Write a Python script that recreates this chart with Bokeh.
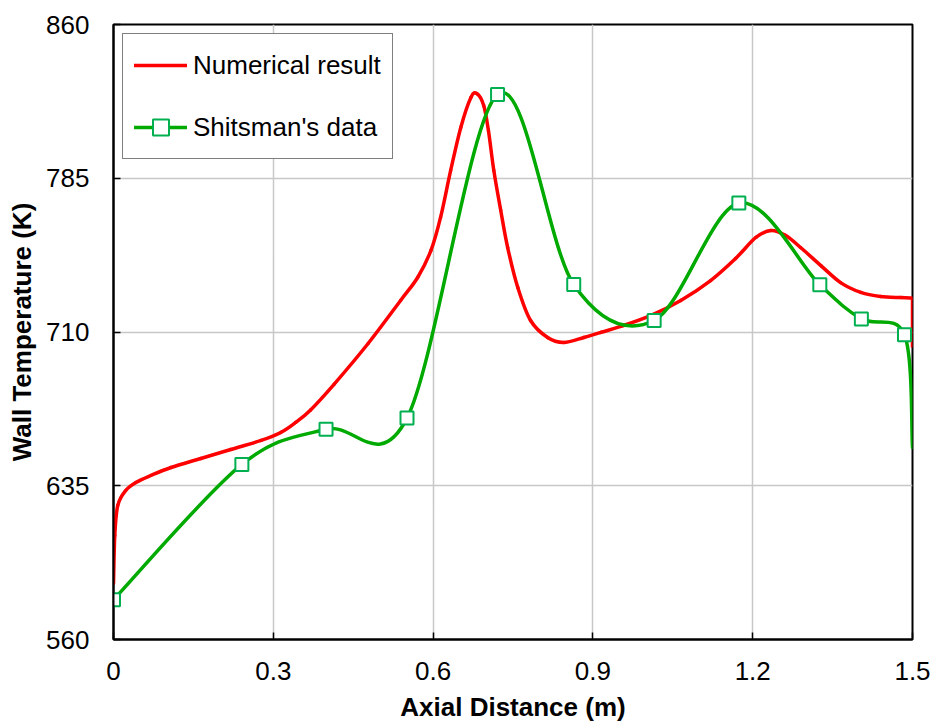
import numpy as np
from bokeh.plotting import figure
from bokeh.models import FixedTicker, Legend, LegendItem, Range1d
from bokeh.embed import file_html
from bokeh.resources import INLINE

# ---- data ----
# Numerical result (red curve)
num_x = [0.000, 0.0024, 0.008, 0.023, 0.042, 0.070, 0.108, 0.164, 0.220, 0.277,
         0.314, 0.342, 0.370, 0.414, 0.478, 0.539, 0.571, 0.596, 0.614, 0.633,
         0.652, 0.671, 0.682, 0.695, 0.704, 0.714, 0.727, 0.740, 0.759, 0.783,
         0.815, 0.845, 0.883, 0.915, 0.952, 1.008, 1.065, 1.121, 1.168, 1.206,
         1.234, 1.262, 1.290, 1.328, 1.365, 1.403, 1.440, 1.478, 1.500, 1.500]
num_T = [587.3, 610.7, 625.4, 632.7, 636.6, 640.0, 643.9, 648.3, 652.7, 657.1,
         661.0, 665.9, 672.0, 684.5, 704.4, 725.4, 736.6, 749.8, 765.9, 788.8,
         809.8, 824.4, 826.3, 820.5, 808.0, 788.8, 769.3, 751.2, 731.7, 715.6,
         707.3, 704.9, 707.3, 709.8, 712.7, 718.0, 725.4, 735.1, 745.9, 756.1,
         759.5, 757.1, 751.2, 742.4, 734.1, 729.3, 727.3, 726.8, 726.6, 702.4]

# Shitsman's data (green, markers)
exp_x = [0.000, 0.241, 0.399, 0.551, 0.721, 0.864, 1.015, 1.174, 1.326, 1.404, 1.485]
exp_T = [579.4, 645.4, 662.6, 668.0, 825.9, 733.2, 715.6, 772.9, 733.0, 716.4, 708.6]
# end point of the green line (no marker)
exp_end_x = [1.500]
exp_end_T = [653.7]

x_ticks = [0, 0.3, 0.6, 0.9, 1.2, 1.5]
x_tick_labels = ["0", "0.3", "0.6", "0.9", "1.2", "1.5"]
y_ticks = [560, 635, 710, 785, 860]


def smooth_segments(xs, ys):
    """Catmull-Rom style cubic Bezier segments through the given points."""
    P = np.column_stack([xs, ys]).astype(float)
    n = len(P)
    Pm = np.vstack([P[0], P, P[-1]])
    i = np.arange(n - 1)
    c0 = Pm[i + 1] + (Pm[i + 2] - Pm[i]) / 6.0
    c1 = Pm[i + 2] - (Pm[i + 3] - Pm[i + 1]) / 6.0
    return dict(x0=P[:-1, 0], y0=P[:-1, 1], x1=P[1:, 0], y1=P[1:, 1],
                cx0=c0[:, 0], cy0=c0[:, 1], cx1=c1[:, 0], cy1=c1[:, 1])


FONT = "Liberation Sans"
RED = "#FF0000"
GREEN = "#00AA00"
MARK = "#00B050"

p = figure(width=934, height=724, output_backend="svg", toolbar_location=None,
           x_range=Range1d(0, 1.5), y_range=Range1d(560, 860),
           min_border_left=113, min_border_right=22, min_border_top=24,
           min_border_bottom=85)

p.outline_line_color = "black"
p.outline_line_width = 2

for ax in (p.xaxis[0], p.yaxis[0]):
    ax.axis_line_color = "black"
    ax.axis_line_width = 2
    ax.major_tick_in = 7
    ax.major_tick_out = 0
    ax.major_tick_line_color = "black"
    ax.major_tick_line_width = 1.5
    ax.minor_tick_line_color = None
    ax.major_label_text_font = FONT
    ax.major_label_text_font_size = "26px"
    ax.major_label_text_color = "black"
    ax.axis_label_text_font = FONT
    ax.axis_label_text_font_size = "26px"
    ax.axis_label_text_font_style = "bold"
    ax.axis_label_text_color = "black"

p.xaxis.ticker = FixedTicker(ticks=x_ticks)
p.yaxis.ticker = FixedTicker(ticks=y_ticks)
p.xaxis.major_label_overrides = {t: l for t, l in zip(x_ticks, x_tick_labels)}
p.xaxis.axis_label = "Axial Distance (m)"
p.yaxis.axis_label = "Wall Temperature (K)"
p.xaxis.major_label_standoff = 22
p.xaxis.axis_label_standoff = 9
p.yaxis.major_label_standoff = 24
p.yaxis.axis_label_standoff = 6

for g in (p.xgrid[0], p.ygrid[0]):
    g.grid_line_color = "#c8c8c8"
    g.grid_line_width = 1.5

# red curve: smooth part, then the straight drop at the outlet
red_r = p.bezier(line_color=RED, line_width=3.5, line_cap="round",
                 **smooth_segments(num_x[:-1], num_T[:-1]))
p.line(num_x[-2:], num_T[-2:], line_color=RED, line_width=3.5)

green_r = p.bezier(line_color=GREEN, line_width=3.5, line_cap="round",
                   **smooth_segments(exp_x + exp_end_x, exp_T + exp_end_T))
mark_r = p.scatter(exp_x, exp_T, marker="square", size=13, fill_color="white",
                   line_color=MARK, line_width=2)

legend = Legend(items=[LegendItem(label="Numerical result", renderers=[red_r]),
                       LegendItem(label="Shitsman's data", renderers=[green_r, mark_r])],
                location="top_left", margin=9, padding=11, spacing=22,
                glyph_width=53, glyph_height=40, label_height=40, label_standoff=6,
                label_text_font=FONT, label_text_font_size="26px",
                label_text_color="black",
                border_line_color="black", border_line_width=1,
                background_fill_color="white", background_fill_alpha=1)
p.add_layout(legend)

open("out.html", "w").write(file_html(p, INLINE))
